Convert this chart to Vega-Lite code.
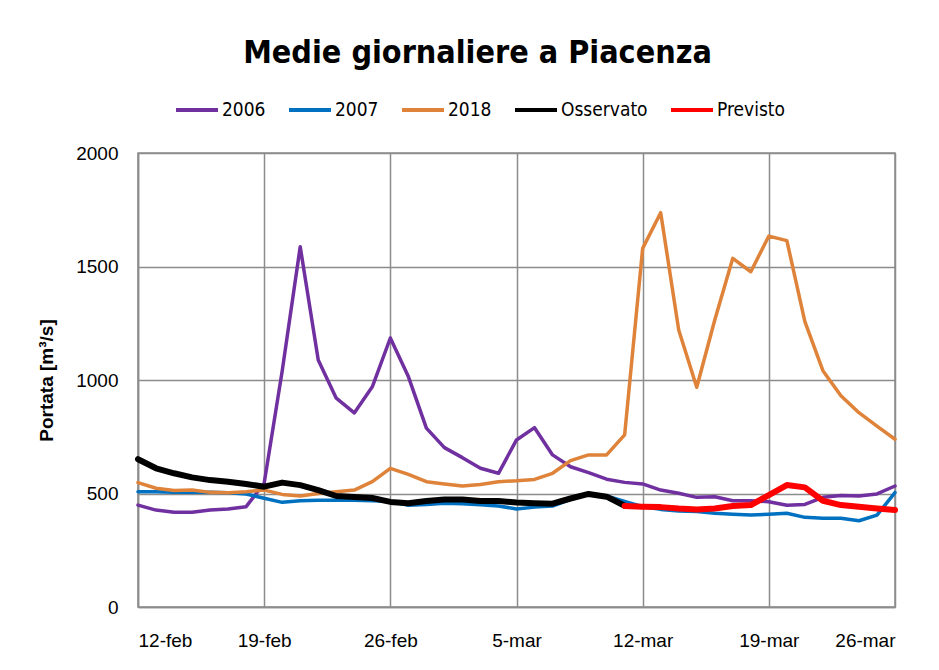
{
  "$schema": "https://vega.github.io/schema/vega-lite/v6.json",
  "width": 757,
  "height": 454,
  "autosize": {"type": "none"},
  "padding": {"left": 138, "top": 153, "right": 44, "bottom": 63},
  "background": "white",
  "title": {
    "text": "Medie giornaliere a Piacenza",
    "font": "DejaVu Sans Condensed",
    "fontSize": 32,
    "fontWeight": "bold",
    "color": "#000000",
    "anchor": "middle",
    "dx": -39,
    "offset": 17
  },
  "config": {
    "view": {"stroke": "#8c8c8c", "strokeWidth": 1.5},
    "axis": {
      "domainColor": "#8c8c8c",
      "domainWidth": 1.5,
      "gridColor": "#8c8c8c",
      "gridWidth": 1.5,
      "gridOpacity": 1,
      "ticks": false,
      "labelFont": "Liberation Sans",
      "labelFontSize": 19,
      "labelColor": "#000000"
    },
    "legend": {
      "labelFont": "DejaVu Sans Condensed",
      "labelFontSize": 19,
      "labelColor": "#000000"
    }
  },
  "datasets": {
    "portate": [
      {"giorno": "2018-02-12", "serie": "2006", "valore": 449},
      {"giorno": "2018-02-13", "serie": "2006", "valore": 427},
      {"giorno": "2018-02-14", "serie": "2006", "valore": 417},
      {"giorno": "2018-02-15", "serie": "2006", "valore": 417},
      {"giorno": "2018-02-16", "serie": "2006", "valore": 427},
      {"giorno": "2018-02-17", "serie": "2006", "valore": 432},
      {"giorno": "2018-02-18", "serie": "2006", "valore": 442},
      {"giorno": "2018-02-19", "serie": "2006", "valore": 545},
      {"giorno": "2018-02-20", "serie": "2006", "valore": 1040},
      {"giorno": "2018-02-21", "serie": "2006", "valore": 1587},
      {"giorno": "2018-02-22", "serie": "2006", "valore": 1088},
      {"giorno": "2018-02-23", "serie": "2006", "valore": 920},
      {"giorno": "2018-02-24", "serie": "2006", "valore": 855},
      {"giorno": "2018-02-25", "serie": "2006", "valore": 970},
      {"giorno": "2018-02-26", "serie": "2006", "valore": 1185},
      {"giorno": "2018-02-27", "serie": "2006", "valore": 1015},
      {"giorno": "2018-02-28", "serie": "2006", "valore": 788},
      {"giorno": "2018-03-01", "serie": "2006", "valore": 702},
      {"giorno": "2018-03-02", "serie": "2006", "valore": 658},
      {"giorno": "2018-03-03", "serie": "2006", "valore": 611},
      {"giorno": "2018-03-04", "serie": "2006", "valore": 589},
      {"giorno": "2018-03-05", "serie": "2006", "valore": 736},
      {"giorno": "2018-03-06", "serie": "2006", "valore": 790},
      {"giorno": "2018-03-07", "serie": "2006", "valore": 670},
      {"giorno": "2018-03-08", "serie": "2006", "valore": 618},
      {"giorno": "2018-03-09", "serie": "2006", "valore": 592},
      {"giorno": "2018-03-10", "serie": "2006", "valore": 563},
      {"giorno": "2018-03-11", "serie": "2006", "valore": 549},
      {"giorno": "2018-03-12", "serie": "2006", "valore": 542},
      {"giorno": "2018-03-13", "serie": "2006", "valore": 515},
      {"giorno": "2018-03-14", "serie": "2006", "valore": 501},
      {"giorno": "2018-03-15", "serie": "2006", "valore": 483},
      {"giorno": "2018-03-16", "serie": "2006", "valore": 486},
      {"giorno": "2018-03-17", "serie": "2006", "valore": 468},
      {"giorno": "2018-03-18", "serie": "2006", "valore": 468},
      {"giorno": "2018-03-19", "serie": "2006", "valore": 464},
      {"giorno": "2018-03-20", "serie": "2006", "valore": 448},
      {"giorno": "2018-03-21", "serie": "2006", "valore": 452},
      {"giorno": "2018-03-22", "serie": "2006", "valore": 483},
      {"giorno": "2018-03-23", "serie": "2006", "valore": 491},
      {"giorno": "2018-03-24", "serie": "2006", "valore": 489},
      {"giorno": "2018-03-25", "serie": "2006", "valore": 498},
      {"giorno": "2018-03-26", "serie": "2006", "valore": 533},

      {"giorno": "2018-02-12", "serie": "2007", "valore": 508},
      {"giorno": "2018-02-13", "serie": "2007", "valore": 508},
      {"giorno": "2018-02-14", "serie": "2007", "valore": 505},
      {"giorno": "2018-02-15", "serie": "2007", "valore": 505},
      {"giorno": "2018-02-16", "serie": "2007", "valore": 505},
      {"giorno": "2018-02-17", "serie": "2007", "valore": 503},
      {"giorno": "2018-02-18", "serie": "2007", "valore": 498},
      {"giorno": "2018-02-19", "serie": "2007", "valore": 479},
      {"giorno": "2018-02-20", "serie": "2007", "valore": 461},
      {"giorno": "2018-02-21", "serie": "2007", "valore": 468},
      {"giorno": "2018-02-22", "serie": "2007", "valore": 470},
      {"giorno": "2018-02-23", "serie": "2007", "valore": 470},
      {"giorno": "2018-02-24", "serie": "2007", "valore": 470},
      {"giorno": "2018-02-25", "serie": "2007", "valore": 468},
      {"giorno": "2018-02-26", "serie": "2007", "valore": 466},
      {"giorno": "2018-02-27", "serie": "2007", "valore": 448},
      {"giorno": "2018-02-28", "serie": "2007", "valore": 452},
      {"giorno": "2018-03-01", "serie": "2007", "valore": 457},
      {"giorno": "2018-03-02", "serie": "2007", "valore": 455},
      {"giorno": "2018-03-03", "serie": "2007", "valore": 450},
      {"giorno": "2018-03-04", "serie": "2007", "valore": 445},
      {"giorno": "2018-03-05", "serie": "2007", "valore": 432},
      {"giorno": "2018-03-06", "serie": "2007", "valore": 440},
      {"giorno": "2018-03-07", "serie": "2007", "valore": 445},
      {"giorno": "2018-03-08", "serie": "2007", "valore": 474},
      {"giorno": "2018-03-09", "serie": "2007", "valore": 496},
      {"giorno": "2018-03-10", "serie": "2007", "valore": 489},
      {"giorno": "2018-03-11", "serie": "2007", "valore": 465},
      {"giorno": "2018-03-12", "serie": "2007", "valore": 442},
      {"giorno": "2018-03-13", "serie": "2007", "valore": 430},
      {"giorno": "2018-03-14", "serie": "2007", "valore": 423},
      {"giorno": "2018-03-15", "serie": "2007", "valore": 421},
      {"giorno": "2018-03-16", "serie": "2007", "valore": 413},
      {"giorno": "2018-03-17", "serie": "2007", "valore": 409},
      {"giorno": "2018-03-18", "serie": "2007", "valore": 405},
      {"giorno": "2018-03-19", "serie": "2007", "valore": 409},
      {"giorno": "2018-03-20", "serie": "2007", "valore": 413},
      {"giorno": "2018-03-21", "serie": "2007", "valore": 395},
      {"giorno": "2018-03-22", "serie": "2007", "valore": 391},
      {"giorno": "2018-03-23", "serie": "2007", "valore": 391},
      {"giorno": "2018-03-24", "serie": "2007", "valore": 380},
      {"giorno": "2018-03-25", "serie": "2007", "valore": 405},
      {"giorno": "2018-03-26", "serie": "2007", "valore": 504},

      {"giorno": "2018-02-12", "serie": "2018", "valore": 548},
      {"giorno": "2018-02-13", "serie": "2018", "valore": 523},
      {"giorno": "2018-02-14", "serie": "2018", "valore": 513},
      {"giorno": "2018-02-15", "serie": "2018", "valore": 515},
      {"giorno": "2018-02-16", "serie": "2018", "valore": 505},
      {"giorno": "2018-02-17", "serie": "2018", "valore": 503},
      {"giorno": "2018-02-18", "serie": "2018", "valore": 508},
      {"giorno": "2018-02-19", "serie": "2018", "valore": 515},
      {"giorno": "2018-02-20", "serie": "2018", "valore": 496},
      {"giorno": "2018-02-21", "serie": "2018", "valore": 489},
      {"giorno": "2018-02-22", "serie": "2018", "valore": 500},
      {"giorno": "2018-02-23", "serie": "2018", "valore": 508},
      {"giorno": "2018-02-24", "serie": "2018", "valore": 515},
      {"giorno": "2018-02-25", "serie": "2018", "valore": 552},
      {"giorno": "2018-02-26", "serie": "2018", "valore": 611},
      {"giorno": "2018-02-27", "serie": "2018", "valore": 584},
      {"giorno": "2018-02-28", "serie": "2018", "valore": 552},
      {"giorno": "2018-03-01", "serie": "2018", "valore": 542},
      {"giorno": "2018-03-02", "serie": "2018", "valore": 533},
      {"giorno": "2018-03-03", "serie": "2018", "valore": 540},
      {"giorno": "2018-03-04", "serie": "2018", "valore": 552},
      {"giorno": "2018-03-05", "serie": "2018", "valore": 556},
      {"giorno": "2018-03-06", "serie": "2018", "valore": 562},
      {"giorno": "2018-03-07", "serie": "2018", "valore": 589},
      {"giorno": "2018-03-08", "serie": "2018", "valore": 645},
      {"giorno": "2018-03-09", "serie": "2018", "valore": 670},
      {"giorno": "2018-03-10", "serie": "2018", "valore": 670},
      {"giorno": "2018-03-11", "serie": "2018", "valore": 758},
      {"giorno": "2018-03-12", "serie": "2018", "valore": 1580},
      {"giorno": "2018-03-13", "serie": "2018", "valore": 1737},
      {"giorno": "2018-03-14", "serie": "2018", "valore": 1220},
      {"giorno": "2018-03-15", "serie": "2018", "valore": 968},
      {"giorno": "2018-03-16", "serie": "2018", "valore": 1264},
      {"giorno": "2018-03-17", "serie": "2018", "valore": 1536},
      {"giorno": "2018-03-18", "serie": "2018", "valore": 1477},
      {"giorno": "2018-03-19", "serie": "2018", "valore": 1634},
      {"giorno": "2018-03-20", "serie": "2018", "valore": 1614},
      {"giorno": "2018-03-21", "serie": "2018", "valore": 1257},
      {"giorno": "2018-03-22", "serie": "2018", "valore": 1041},
      {"giorno": "2018-03-23", "serie": "2018", "valore": 931},
      {"giorno": "2018-03-24", "serie": "2018", "valore": 856},
      {"giorno": "2018-03-25", "serie": "2018", "valore": 797},
      {"giorno": "2018-03-26", "serie": "2018", "valore": 739},

      {"giorno": "2018-02-12", "serie": "Osservato", "valore": 651},
      {"giorno": "2018-02-13", "serie": "Osservato", "valore": 611},
      {"giorno": "2018-02-14", "serie": "Osservato", "valore": 589},
      {"giorno": "2018-02-15", "serie": "Osservato", "valore": 571},
      {"giorno": "2018-02-16", "serie": "Osservato", "valore": 559},
      {"giorno": "2018-02-17", "serie": "Osservato", "valore": 552},
      {"giorno": "2018-02-18", "serie": "Osservato", "valore": 542},
      {"giorno": "2018-02-19", "serie": "Osservato", "valore": 530},
      {"giorno": "2018-02-20", "serie": "Osservato", "valore": 548},
      {"giorno": "2018-02-21", "serie": "Osservato", "valore": 537},
      {"giorno": "2018-02-22", "serie": "Osservato", "valore": 515},
      {"giorno": "2018-02-23", "serie": "Osservato", "valore": 489},
      {"giorno": "2018-02-24", "serie": "Osservato", "valore": 485},
      {"giorno": "2018-02-25", "serie": "Osservato", "valore": 480},
      {"giorno": "2018-02-26", "serie": "Osservato", "valore": 463},
      {"giorno": "2018-02-27", "serie": "Osservato", "valore": 457},
      {"giorno": "2018-02-28", "serie": "Osservato", "valore": 467},
      {"giorno": "2018-03-01", "serie": "Osservato", "valore": 474},
      {"giorno": "2018-03-02", "serie": "Osservato", "valore": 474},
      {"giorno": "2018-03-03", "serie": "Osservato", "valore": 467},
      {"giorno": "2018-03-04", "serie": "Osservato", "valore": 467},
      {"giorno": "2018-03-05", "serie": "Osservato", "valore": 460},
      {"giorno": "2018-03-06", "serie": "Osservato", "valore": 457},
      {"giorno": "2018-03-07", "serie": "Osservato", "valore": 455},
      {"giorno": "2018-03-08", "serie": "Osservato", "valore": 478},
      {"giorno": "2018-03-09", "serie": "Osservato", "valore": 498},
      {"giorno": "2018-03-10", "serie": "Osservato", "valore": 486},
      {"giorno": "2018-03-11", "serie": "Osservato", "valore": 446},

      {"giorno": "2018-03-11", "serie": "Previsto", "valore": 445},
      {"giorno": "2018-03-12", "serie": "Previsto", "valore": 442},
      {"giorno": "2018-03-13", "serie": "Previsto", "valore": 440},
      {"giorno": "2018-03-14", "serie": "Previsto", "valore": 434},
      {"giorno": "2018-03-15", "serie": "Previsto", "valore": 430},
      {"giorno": "2018-03-16", "serie": "Previsto", "valore": 434},
      {"giorno": "2018-03-17", "serie": "Previsto", "valore": 445},
      {"giorno": "2018-03-18", "serie": "Previsto", "valore": 449},
      {"giorno": "2018-03-19", "serie": "Previsto", "valore": 493},
      {"giorno": "2018-03-20", "serie": "Previsto", "valore": 537},
      {"giorno": "2018-03-21", "serie": "Previsto", "valore": 527},
      {"giorno": "2018-03-22", "serie": "Previsto", "valore": 468},
      {"giorno": "2018-03-23", "serie": "Previsto", "valore": 449},
      {"giorno": "2018-03-24", "serie": "Previsto", "valore": 442},
      {"giorno": "2018-03-25", "serie": "Previsto", "valore": 434},
      {"giorno": "2018-03-26", "serie": "Previsto", "valore": 427}
    ]
  },
  "data": {"name": "portate"},
  "encoding": {
    "x": {
      "field": "giorno",
      "type": "temporal",
      "scale": {
        "type": "utc",
        "nice": false,
        "domain": [
          {"year": 2018, "month": "feb", "date": 12, "utc": true},
          {"year": 2018, "month": "mar", "date": 26, "utc": true}
        ]
      },
      "axis": {
        "title": null,
        "grid": true,
        "labelPadding": 24,
        "labelOverlap": false,
        "values": [
          {"year": 2018, "month": "feb", "date": 12, "utc": true},
          {"year": 2018, "month": "feb", "date": 19, "utc": true},
          {"year": 2018, "month": "feb", "date": 26, "utc": true},
          {"year": 2018, "month": "mar", "date": 5, "utc": true},
          {"year": 2018, "month": "mar", "date": 12, "utc": true},
          {"year": 2018, "month": "mar", "date": 19, "utc": true},
          {"year": 2018, "month": "mar", "date": 26, "utc": true}
        ],
        "labelExpr": "utcFormat(datum.value, '%-d') + '-' + lower(utcFormat(datum.value, '%b'))"
      }
    },
    "y": {
      "field": "valore",
      "type": "quantitative",
      "scale": {"domain": [0, 2000], "nice": false},
      "axis": {
        "title": "Portata [m³/s]",
        "titleFont": "Liberation Sans",
        "titleFontSize": 19,
        "titleFontWeight": "bold",
        "titleColor": "#000000",
        "titleAngle": 270,
        "titleAlign": "center",
        "titleBaseline": "alphabetic",
        "titleX": -86,
        "titleY": 227,
        "values": [0, 500, 1000, 1500, 2000],
        "format": "d",
        "labelPadding": 20,
        "grid": true
      }
    },
    "color": {
      "field": "serie",
      "type": "nominal",
      "scale": {
        "domain": ["2006", "2007", "2018", "Osservato", "Previsto"],
        "range": ["#7030A0", "#0070C0", "#DE8339", "#000000", "#FF0000"]
      },
      "legend": {
        "title": null,
        "orient": "none",
        "direction": "horizontal",
        "legendX": 36,
        "legendY": -66,
        "symbolType": "stroke",
        "symbolSize": 1764,
        "symbolStrokeWidth": 4,
        "labelOffset": 2,
        "columnPadding": 15
      }
    }
  },
  "layer": [
    {
      "transform": [{"filter": "datum.serie == '2006' || datum.serie == '2007' || datum.serie == '2018'"}],
      "mark": {"type": "line", "strokeWidth": 3.5, "strokeJoin": "round", "strokeCap": "round"}
    },
    {
      "transform": [{"filter": "datum.serie == 'Osservato'"}],
      "mark": {"type": "line", "strokeWidth": 6, "strokeJoin": "round", "strokeCap": "round"}
    },
    {
      "transform": [{"filter": "datum.serie == 'Previsto'"}],
      "mark": {"type": "line", "strokeWidth": 6, "strokeJoin": "round", "strokeCap": "round"}
    }
  ]
}
